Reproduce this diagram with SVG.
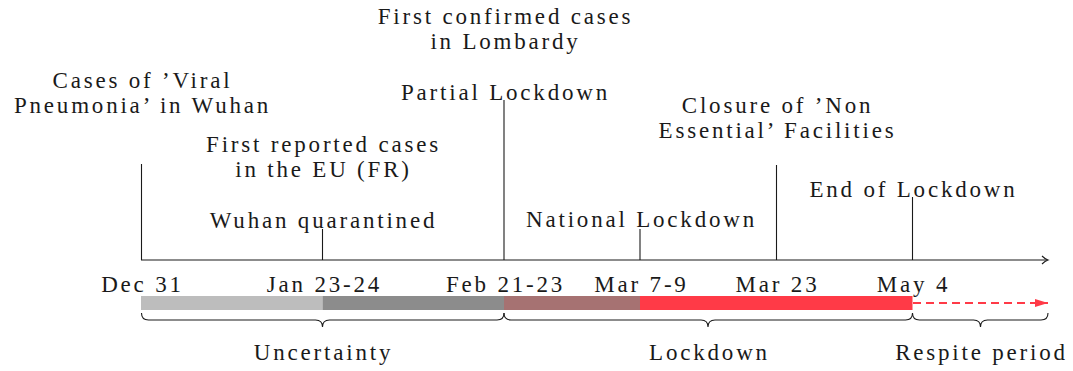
<svg xmlns="http://www.w3.org/2000/svg" width="1073" height="371" viewBox="0 0 1073 371">
  <defs>
    <style>
      text { font-family: "Liberation Serif", "Times New Roman", serif; font-size: 23px; fill: #1a1a1a; text-anchor: middle; letter-spacing: 2.8px; }
      .tick { stroke: #1a1a1a; stroke-width: 1.1; fill: none; }
      .brace { stroke: #1a1a1a; stroke-width: 1.1; fill: none; }
    </style>
    <marker id="redhead" markerWidth="13" markerHeight="8" refX="13" refY="4" orient="auto" markerUnits="userSpaceOnUse">
      <path d="M0,0 L13,4 L0,8 Z" fill="#ff3a47"/>
    </marker>
  </defs>
  <rect width="1073" height="371" fill="#ffffff"/>

  <g id="connectors">
    <line class="tick" x1="141" y1="260" x2="1047" y2="260"/>
    <path class="tick" d="M1042,256 Q1045,259 1048,260 Q1045,261 1042,264"/>
  </g>

  <g id="event-dec31">
    <line class="tick" x1="141.5" y1="164" x2="141.5" y2="260"/>
    <text x="142.5" y="88">Cases of ’Viral</text>
    <text x="142.5" y="113">Pneumonia’ in Wuhan</text>
  </g>
  <g id="event-eu">
    <text x="323.5" y="152">First reported cases</text>
    <text x="323.5" y="177">in the EU (FR)</text>
  </g>
  <g id="event-jan23">
    <line class="tick" x1="322.5" y1="229" x2="322.5" y2="260"/>
    <text x="323.5" y="228">Wuhan quarantined</text>
  </g>
  <g id="event-lombardy">
    <text x="505.5" y="24">First confirmed cases</text>
    <text x="505.5" y="49">in Lombardy</text>
  </g>
  <g id="event-feb21">
    <line class="tick" x1="504" y1="100" x2="504" y2="260"/>
    <text x="505.5" y="100">Partial Lockdown</text>
  </g>
  <g id="event-mar7">
    <line class="tick" x1="640" y1="229" x2="640" y2="260"/>
    <text x="641.5" y="227">National Lockdown</text>
  </g>
  <g id="event-mar23">
    <line class="tick" x1="776.5" y1="165" x2="776.5" y2="260"/>
    <text x="777.5" y="113">Closure of ’Non</text>
    <text x="777.5" y="138">Essential’ Facilities</text>
  </g>
  <g id="event-may4">
    <line class="tick" x1="912.5" y1="197" x2="912.5" y2="260"/>
    <text x="913.5" y="197">End of Lockdown</text>
  </g>

  <g id="dates">
    <text x="142.5" y="292">Dec 31</text>
    <text x="324.5" y="292">Jan 23-24</text>
    <text x="505.5" y="292">Feb 21-23</text>
    <text x="641.5" y="292">Mar 7-9</text>
    <text x="777.5" y="292">Mar 23</text>
    <text x="913.5" y="292">May 4</text>
  </g>

  <g id="bar">
    <rect x="141" y="296" width="181.5" height="14" fill="#bdbdbd"/>
    <rect x="322.5" y="296" width="181.5" height="14" fill="#8c8c8c"/>
    <rect x="504" y="296" width="136" height="14" fill="#a67272"/>
    <rect x="640" y="296" width="272.5" height="14" fill="#ff3a47"/>
    <line x1="913" y1="303" x2="1048" y2="303" stroke="#ff3a47" stroke-width="2" stroke-dasharray="8,5" marker-end="url(#redhead)"/>
  </g>

  <g id="period-uncertainty">
    <path class="brace" d="M141.5,313 Q141.5,320 148.5,320 L315.5,320 Q322.5,320 322.5,327 Q322.5,320 329.5,320 L497,320 Q504,320 504,313"/>
    <text x="323.5" y="360">Uncertainty</text>
  </g>
  <g id="period-lockdown">
    <path class="brace" d="M504,313 Q504,320 511,320 L701,320 Q708,320 708,327 Q708,320 715,320 L905.5,320 Q912.5,320 912.5,313"/>
    <text x="709.5" y="360">Lockdown</text>
  </g>
  <g id="period-respite">
    <path class="brace" d="M912.5,313 Q912.5,320 919.5,320 L973.5,320 Q980.5,320 980.5,327 Q980.5,320 987.5,320 L1041,320 Q1048,320 1048,313"/>
    <text x="981.5" y="360">Respite period</text>
  </g>
</svg>
